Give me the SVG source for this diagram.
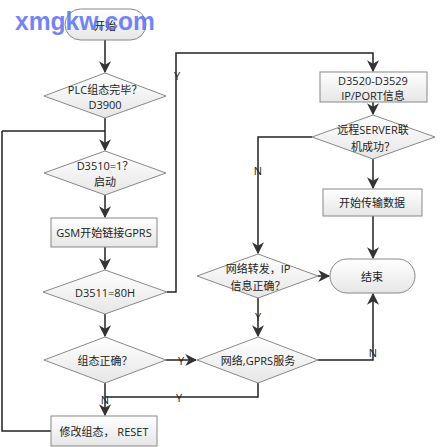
<svg xmlns="http://www.w3.org/2000/svg" width="446" height="447" viewBox="0 0 446 447">
<defs>
<linearGradient id="g" x1="0" y1="0" x2="0" y2="1">
<stop offset="0" stop-color="#ffffff"/>
<stop offset="1" stop-color="#e6e6e6"/>
</linearGradient>
<marker id="ah" viewBox="0 0 10 10" refX="9" refY="5" markerWidth="7" markerHeight="7" orient="auto" markerUnits="userSpaceOnUse">
<path d="M0,0 L10,5 L0,10 L3,5 Z" fill="#333"/>
</marker>
<marker id="ah2" viewBox="0 0 10 10" refX="9" refY="5" markerWidth="12" markerHeight="12" orient="auto" markerUnits="userSpaceOnUse">
<path d="M0,0 L10,5 L0,10 L3,5 Z" fill="#333"/>
</marker>
</defs>
<style>
.shape{fill:url(#g);stroke:#888;stroke-width:1}
.line{fill:none;stroke:#222;stroke-width:1.5}
.t{font-family:"Open Sans","Liberation Sans","Noto Sans CJK SC",sans-serif;font-size:11px;fill:#222;text-anchor:middle;dominant-baseline:central}
.lbl{font-family:"Open Sans","Liberation Sans",sans-serif;font-size:11px;fill:#222;text-anchor:middle;dominant-baseline:central}
</style>
<rect width="446" height="447" fill="#ffffff"/>

<g id="connectors">
<path class="line" d="M105,40 V72" marker-end="url(#ah2)"/>
<path class="line" d="M105,118 V150" marker-end="url(#ah2)"/>
<path class="line" d="M2,131 H105"/>
<path class="line" d="M105,195 V217" marker-end="url(#ah2)"/>
<path class="line" d="M105,247 V269" marker-end="url(#ah2)"/>
<path class="line" d="M167,292 H176 V53 H373 V71" marker-end="url(#ah2)"/>
<path class="line" d="M373,102 V114" marker-end="url(#ah2)"/>
<path class="line" d="M312,137 H258 V253" marker-end="url(#ah2)"/>
<path class="line" d="M373,159 V188" marker-end="url(#ah2)"/>
<path class="line" d="M373,216 V258" marker-end="url(#ah2)"/>
<path class="line" d="M318,276 H329" marker-end="url(#ah2)"/>
<path class="line" d="M258,298 V336" marker-end="url(#ah2)"/>
<path class="line" d="M105,314 V336" marker-end="url(#ah2)"/>
<path class="line" d="M166,360 H196" marker-end="url(#ah2)"/>
<path class="line" d="M318,360 H373 V294" marker-end="url(#ah2)"/>
<path class="line" d="M258,383 V397 H105"/>
<path class="line" d="M105,383 V415" marker-end="url(#ah2)"/>
<path class="line" d="M51,431 H2 V131"/>
<text class="lbl" x="177" y="75">Y</text>
<text class="lbl" x="258" y="170">N</text>
<text class="lbl" x="258" y="316">Y</text>
<text class="lbl" x="181" y="360" style="fill:#222">Y</text>
<text class="lbl" x="373" y="352">N</text>
<text class="lbl" x="179" y="397">Y</text>
<text class="lbl" x="105" y="399">N</text>
</g>

<g id="start">
<rect class="shape" x="65" y="9" width="81" height="31" rx="15.5"/>
<text class="t" x="105" y="25">开始</text>
</g>
<g id="d_plc">
<polygon class="shape" points="105,73 166,96 105,118 44,96"/>
<text class="t" x="105" y="89">PLC组态完毕？</text>
<text class="t" x="105" y="104">D3900</text>
</g>
<g id="d_3510">
<polygon class="shape" points="105,151 166,173 105,195 44,173"/>
<text class="t" x="105" y="165">D3510=1？</text>
<text class="t" x="105" y="181">启动</text>
</g>
<g id="gsm">
<rect class="shape" x="51" y="218" width="106" height="29"/>
<text class="t" x="104" y="232.5">GSM开始链接GPRS</text>
</g>
<g id="d_3511">
<polygon class="shape" points="105,270 167,292 105,314 43,292"/>
<text class="t" x="105" y="292">D3511=80H</text>
</g>
<g id="d_zt">
<polygon class="shape" points="105,337 166,360 105,383 44,360"/>
<text class="t" x="105" y="360">组态正确？</text>
</g>
<g id="reset">
<rect class="shape" x="51" y="416" width="106" height="30"/>
<text class="t" x="104" y="431">修改组态，  RESET</text>
</g>
<g id="ipport">
<rect class="shape" x="320" y="72" width="107" height="30"/>
<text class="t" x="373" y="80">D3520-D3529</text>
<text class="t" x="373" y="95">IP/PORT信息</text>
</g>
<g id="d_server">
<polygon class="shape" points="373,115 435,137 373,159 312,137"/>
<text class="t" x="373" y="129">远程SERVER联</text>
<text class="t" x="373" y="146">机成功？</text>
</g>
<g id="transfer">
<rect class="shape" x="323" y="189" width="99" height="27"/>
<text class="t" x="372" y="202.5">开始传输数据</text>
</g>
<g id="end">
<rect class="shape" x="330" y="259" width="85" height="34" rx="17"/>
<text class="t" x="372" y="276">结束</text>
</g>
<g id="d_ip">
<polygon class="shape" points="258,254 318,276 258,298 197,276"/>
<text class="t" x="258" y="268">网络转发，IP</text>
<text class="t" x="258" y="285">信息正确？</text>
</g>
<g id="d_gprs">
<polygon class="shape" points="258,337 318,360 258,383 197,360"/>
<text class="t" x="258" y="360">网络,GPRS服务</text>
</g>
<text x="15" y="30" font-family="Liberation Sans, Arial, sans-serif" font-weight="bold" font-size="26" fill="#5b6ff0" fill-opacity="0.85" textLength="140" lengthAdjust="spacingAndGlyphs">xmgkw.com</text>
</svg>
